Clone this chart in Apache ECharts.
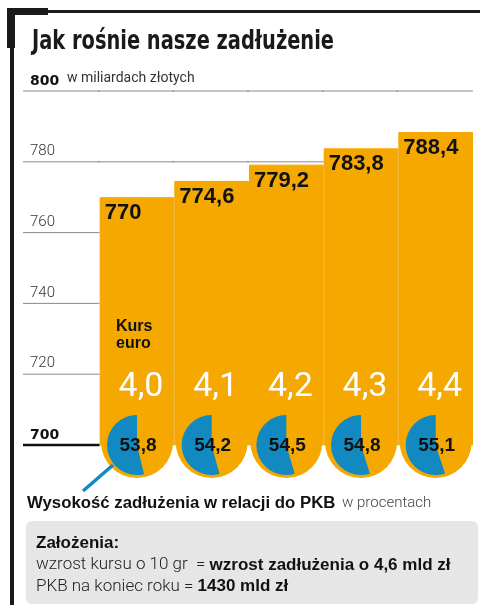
<!DOCTYPE html>
<html>
<head>
<meta charset="utf-8">
<script src="https://cdn.jsdelivr.net/npm/echarts@6/dist/echarts.min.js"></script>
<style>
  html, body { margin: 0; padding: 0; background: #fff; }
  #chart { width: 490px; height: 615px; }
</style>
</head>
<body>
<div id="chart"></div>
<script>
// dane
const kursEuro = ['4,0', '4,1', '4,2', '4,3', '4,4']
const zadluzenie = [770, 774.6, 779.2, 783.8, 788.4]
const procentPKB = [53.8, 54.2, 54.5, 54.8, 55.1]
const yTicks = [700, 720, 740, 760, 780, 800]

const ORANGE = '#f4a800'
const BLUE = '#1289c0'
const fmt = v => String(v).replace('.', ',')

// pierwsza kategoria pusta - tam siedza opisy osi
const categories = [''].concat(kursEuro)
const barData = ['-'].concat(zadluzenie)
const pieData = procentPKB.map((v, i) => [i + 1, v])

// odcinki siatki tylko tam, gdzie nie zaslania ich slupek
const gridSegs = []
categories.forEach((c, i) => {
    yTicks.forEach(v => {
        if (i === 0 || v > barData[i]) gridSegs.push([i, v])
    })
})

let chart = echarts.init(document.getElementById('chart'))
chart.setOption({
    animation: false,
    grid: {
        left: 25,
        right: 17,
        top: 91,
        bottom: 170,
        show: false
    },
    xAxis: {
        type: 'category',
        data: categories,
        axisTick: { show: false },
        axisLabel: { show: false },
        axisLine: { show: false },
        splitLine: { show: false, lineStyle: { opacity: 0 } },
        splitArea: { show: false }
    },
    yAxis: {
        type: 'value',
        min: yTicks[0],
        max: yTicks[yTicks.length - 1],
        interval: 20,
        axisLine: { show: false },
        axisTick: { show: false },
        splitLine: { show: false, lineStyle: { opacity: 0 } },
        splitArea: { show: false },
        axisLabel: {
            inside: true,
            margin: 5,
            verticalAlign: 'bottom',
            padding: [0, 0, 3, 0],
            formatter: function (v) {
                if (v === 700 || v === 800) return '{b|' + v + '}'
                return '{n|' + v + '}'
            },
            rich: {
                b: { fontFamily: 'DejaVu Sans', fontWeight: 'bold', fontSize: 14, color: '#111' },
                n: { fontFamily: 'Roboto', fontWeight: 300, fontSize: 15, color: '#333' }
            }
        }
    },
    series: [
        {
            type: 'custom',
            z: 1,
            silent: true,
            data: gridSegs,
            renderItem: function (params, api) {
                let p = api.coord([api.value(0), api.value(1)])
                let w = api.size([1, 0])[0]
                let mocna = api.value(1) === yTicks[0]
                return {
                    type: 'line',
                    shape: { x1: p[0] - w / 2 - 2, y1: p[1], x2: p[0] + w / 2, y2: p[1] },
                    style: { stroke: mocna ? '#111' : '#8a8a8a', lineWidth: mocna ? 2.5 : 1 }
                }
            }
        },
        {
            type: 'bar',
            data: barData,
            barWidth: '100%',
            barCategoryGap: 0,
            itemStyle: { color: ORANGE, borderColor: ORANGE, borderWidth: 1, opacity: 1 },
            z: 2,
            label: {
                show: true,
                position: 'insideTopLeft',
                distance: 5,
                formatter: p => fmt(p.value),
                fontFamily: 'Liberation Sans',
                fontWeight: 'bold',
                fontSize: 22,
                color: '#111'
            }
        },
        {
            type: 'custom',
            z: 3,
            data: pieData,
            renderItem: function (params, api) {
                let c = api.coord([api.value(0), yTicks[0]])
                let pct = api.value(1)
                let start = -Math.PI / 2
                let end = start - pct / 100 * Math.PI * 2
                return {
                    type: 'group',
                    children: [
                        {
                            type: 'circle',
                            shape: { cx: c[0], cy: c[1] - 3, r: 36 },
                            style: { fill: ORANGE }
                        },
                        {
                            type: 'sector',
                            shape: { cx: c[0], cy: c[1], r: 30, r0: 0, startAngle: start, endAngle: end, clockwise: false },
                            style: { fill: BLUE }
                        },
                        {
                            type: 'text',
                            style: {
                                text: fmt(pct),
                                x: c[0] + 1,
                                y: c[1] + 1,
                                align: 'center',
                                verticalAlign: 'middle',
                                font: 'bold 19px "Liberation Sans"',
                                fill: '#111'
                            }
                        },
                        {
                            type: 'text',
                            style: {
                                text: kursEuro[params.dataIndex],
                                x: c[0] + 4,
                                y: c[1] - 58,
                                align: 'center',
                                verticalAlign: 'middle',
                                font: '34px Roboto',
                                fill: '#fff'
                            }
                        }
                    ]
                }
            }
        }
    ],
    graphic: [
        // ramka
        { type: 'rect', shape: { x: 10, y: 10, width: 4, height: 595 }, style: { fill: '#1a1a1a' } },
        { type: 'rect', shape: { x: 10, y: 10, width: 470, height: 3 }, style: { fill: '#1a1a1a' } },
        { type: 'rect', shape: { x: 7, y: 8, width: 8, height: 40 }, style: { fill: '#1a1a1a' } },
        { type: 'rect', shape: { x: 7, y: 8, width: 41, height: 7 }, style: { fill: '#1a1a1a' } },
        {
            type: 'text', x: 32, y: 29, scaleX: 0.83,
            style: { text: 'Jak rośnie nasze zadłużenie', font: 'bold 26px "DejaVu Sans Condensed"', fill: '#1a1a1a' }
        },
        {
            type: 'text', left: 67, top: 71,
            style: { text: 'w miliardach złotych', font: '14px Roboto', fill: '#333' }
        },
        {
            type: 'text', left: 116, top: 318, z: 100,
            style: { text: 'Kurs\neuro', font: 'bold 16px "Liberation Sans"', lineHeight: 17, fill: '#111' }
        },
        {
            type: 'line', z: 100,
            shape: { x1: 113, y1: 465, x2: 83, y2: 491 },
            style: { stroke: BLUE, lineWidth: 3.5 }
        },
        {
            type: 'text', left: 27, top: 495,
            style: {
                text: '{b|Wysokość zadłużenia w relacji do PKB}  {n|w procentach}',
                rich: {
                    b: { font: 'bold 16.8px "Liberation Sans"', fill: '#111' },
                    n: { font: '300 15px Roboto', fill: '#444' }
                }
            }
        },
        {
            type: 'rect',
            shape: { x: 26, y: 521, width: 452, height: 83, r: 6 },
            style: { fill: '#e6e6e6' }
        },
        {
            type: 'text', left: 36, top: 535,
            style: {
                text: '{b|Założenia:}\n{n|wzrost kursu o 10 gr  = }{b|wzrost zadłużenia o 4,6 mld zł}\n{n|PKB na koniec roku = }{b|1430 mld zł}',
                rich: {
                    b: { font: 'bold 17px "Liberation Sans"', fill: '#111', lineHeight: 21.5 },
                    n: { font: '300 17px Roboto', fill: '#222', lineHeight: 21.5 }
                }
            }
        }
    ]
})
</script>
</body>
</html>
